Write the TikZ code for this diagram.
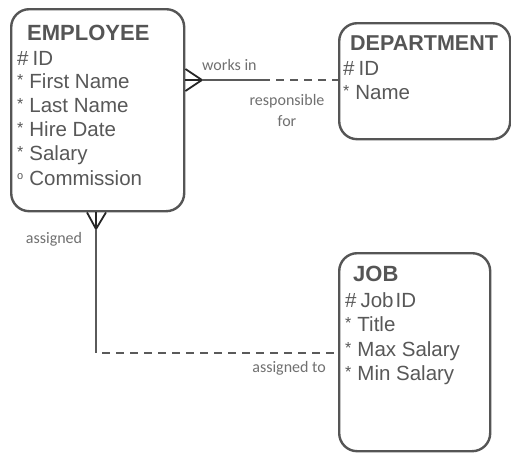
\documentclass[tikz,border=0pt]{standalone}
\usepackage{fontspec}
\setmainfont{Liberation Sans}
\newfontfamily\lblfont{Carlito}
\begin{document}
\begin{tikzpicture}[x=1pt,y=-1pt,
  entity/.style={draw=boxgray, line width=2.4pt, rounded corners=18pt, inner sep=0pt, anchor=north west},
  ttl/.style={anchor=base west, inner sep=0pt, text=titlegray, font=\fontsize{22}{22}\selectfont\bfseries},
  attr/.style={anchor=base west, inner sep=0pt, text=attrgray, font=\fontsize{20.5}{20.5}\selectfont},
  lbl/.style={inner sep=0pt, text=lblgray, font=\lblfont\fontsize{16}{16}\selectfont},
  rel/.style={draw=linegray, line width=1.6pt},
  reldash/.style={draw=linegray, line width=1.6pt, dash pattern=on 8pt off 6pt},
  crow/.style={draw=black!85, line width=1.8pt}
]
\definecolor{boxgray}{HTML}{555555}
\definecolor{titlegray}{HTML}{555555}
\definecolor{attrgray}{HTML}{585858}
\definecolor{lblgray}{HTML}{707070}
\definecolor{linegray}{HTML}{5A5A5A}
\newcommand{\pk}{\#\hspace{4pt}}
\newcommand{\mand}{\raisebox{3pt}{\fontsize{16}{16}\selectfont *}\hspace{6pt}}
\newcommand{\opt}{\raisebox{6pt}{\fontsize{11}{11}\selectfont o}\hspace{6pt}}
\useasboundingbox (0,0) rectangle (511,453);
\fill[white] (0,0) rectangle (511,453);

% entities
\node[entity, minimum width=173pt, minimum height=202pt] (emp) at (10,8) {};
\node[entity, minimum width=171pt, minimum height=116pt] (dept) at (338,22) {};
\node[entity, minimum width=151pt, minimum height=198pt] (job) at (338,252) {};

% EMPLOYEE texts
\node[ttl] (empT) at (27,40) {EMPLOYEE};
\node[attr] (e1) at (17,65) {\pk ID};
\node[attr] (e2) at (17,88) {\mand First Name};
\node[attr] (e3) at (17,112) {\mand Last Name};
\node[attr] (e4) at (17,136) {\mand Hire Date};
\node[attr] (e5) at (17,160) {\mand Salary};
\node[attr] (e6) at (17,185) {\opt Commission};

% DEPARTMENT texts
\node[ttl, font=\fontsize{21.5}{21.5}\selectfont\bfseries] (deptT) at (350,50) {DEPARTMENT};
\node[attr] (d1) at (343,75) {\pk ID};
\node[attr] (d2) at (343,99) {\mand Name};

% JOB texts
\node[ttl] (jobT) at (353,281) {JOB};
\node[attr] (j1) at (345,307) {\pk Job\hspace{2pt}ID};
\node[attr] (j2) at (345,331) {\mand Title};
\node[attr] (j3) at (345,356) {\mand Max Salary};
\node[attr] (j4) at (345,380) {\mand Min Salary};

% works in / responsible for
\coordinate (wv) at (202,80);
\coordinate (wm) at (262,80);
\draw[crow] (emp.east |- 0,69) -- (wv) -- (emp.east |- 0,91);
\draw[crow] (emp.east |- wv) -- (wv);
\draw[rel] (wv) -- (wm);
\draw[reldash] (wm) -- (dept.west |- wm);
\node[lbl, anchor=base west] (lw) at (202,70) {works in};
\node[lbl, anchor=base] (lr1) at (287,105) {responsible};
\node[lbl, anchor=base] (lr2) at (287,126) {for};

% assigned / assigned to
\coordinate (av) at (96,229);
\coordinate (ac) at (96,353);
\draw[crow] (emp.south -| 87,0) -- (av) -- (emp.south -| 106,0);
\draw[crow] (emp.south -| av) -- (av);
\draw[rel] (av) -- (ac);
\draw[reldash] (ac) ++(6,0) -- (job.west |- ac);
\node[lbl, anchor=base] (la) at (54,243) {assigned};
\node[lbl, anchor=base east] (lat) at (326,372) {assigned to};
\end{tikzpicture}
\end{document}
